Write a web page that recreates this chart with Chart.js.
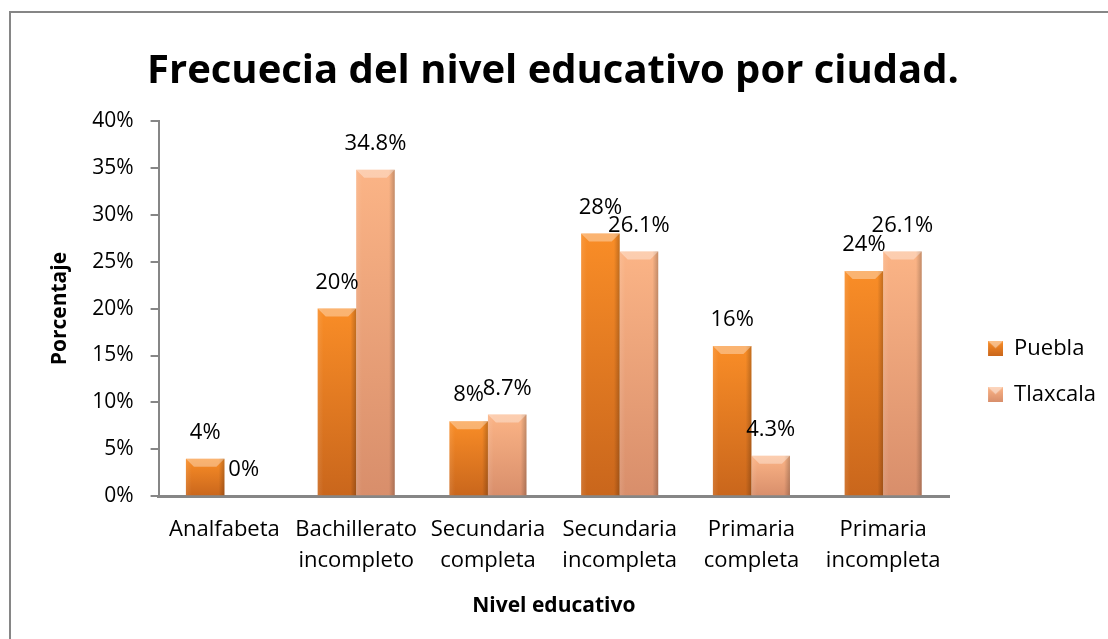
<!DOCTYPE html>
<html>
<head>
<meta charset="utf-8">
<script src="https://cdn.jsdelivr.net/npm/chart.js@4"></script>
<style>
  html, body { margin: 0; padding: 0; background: #fff; overflow: hidden; }
  #wrap { position: relative; width: 1108px; height: 639px; }
  #marco { position: absolute; left: 9px; top: 11px; width: 1200px; height: 800px;
           border: 2px solid #868686; box-sizing: border-box; pointer-events: none; }
</style>
</head>
<body>
<div id="wrap">
  <canvas id="myChart" width="1108" height="639"></canvas>
  <div id="marco"></div>
</div>
<script>
// datos
var niveles = [['Analfabeta'], ['Bachillerato', 'incompleto'], ['Secundaria', 'completa'],
               ['Secundaria', 'incompleta'], ['Primaria', 'completa'], ['Primaria', 'incompleta']];
var puebla = [4, 20, 8, 28, 16, 24];
var tlaxcala = [0, 34.8, 8.7, 26.1, 4.3, 26.1];
var ticks_y = [0, 5, 10, 15, 20, 25, 30, 35, 40];

var fuente = '"Open Sans", Lato, sans-serif';
var gris = '#868686';

// degradado vertical por barra, como en excel
function degradado (arriba, abajo) {
    return function (c) {
        var chart = c.chart;
        if (!chart.chartArea || c.type !== 'data') return arriba;
        var y = chart.scales.y;
        var top = y.getPixelForValue(c.raw);
        var bottom = y.getPixelForValue(0);
        if (bottom - top < 1) return arriba;
        var g = chart.ctx.createLinearGradient(0, top, 0, bottom);
        g.addColorStop(0, arriba);
        g.addColorStop(1, abajo);
        return g;
    };
}

// cuadrito de la leyenda con margen a la izquierda
function icono (arriba, abajo) {
    var c = document.createElement('canvas');
    c.width = 30; c.height = 15;
    var x = c.getContext('2d');
    var g = x.createLinearGradient(0, 0, 0, 15);
    g.addColorStop(0, arriba);
    g.addColorStop(1, abajo);
    x.fillStyle = g;
    x.fillRect(15, 0, 15, 15);
    x.fillStyle = 'rgba(255,255,255,0.45)';
    x.beginPath();
    x.moveTo(15, 0); x.lineTo(30, 0); x.lineTo(22.5, 7); x.closePath();
    x.fill();
    return c;
}

// sombreado lateral y bisel de arriba
var bisel = {
    id: 'bisel',
    afterDatasetsDraw: function (chart) {
        var ctx = chart.ctx;
        chart.data.datasets.forEach(function (ds, i) {
            chart.getDatasetMeta(i).data.forEach(function (bar) {
                var w = bar.width, l = bar.x - w / 2, r = bar.x + w / 2;
                var t = bar.y, b = bar.base;
                if (b - t < 1) return;
                ctx.save();
                var g = ctx.createLinearGradient(l, 0, r, 0);
                g.addColorStop(0, 'rgba(255,255,255,0.10)');
                g.addColorStop(0.15, 'rgba(255,255,255,0)');
                g.addColorStop(0.85, 'rgba(0,0,0,0)');
                g.addColorStop(1, 'rgba(0,0,0,0.22)');
                ctx.fillStyle = g;
                ctx.fillRect(l, t, w, b - t);
                var h = Math.min(8, (b - t) / 2);
                ctx.beginPath();
                ctx.moveTo(l, t);
                ctx.lineTo(r, t);
                ctx.lineTo(r - h, t + h);
                ctx.lineTo(l + h, t + h);
                ctx.closePath();
                ctx.fillStyle = 'rgba(255,255,255,0.35)';
                ctx.fill();
                ctx.restore();
            });
        });
    }
};

// etiquetas de valor encima de cada barra
var etiquetas = {
    id: 'etiquetas',
    afterDatasetsDraw: function (chart) {
        var ctx = chart.ctx;
        ctx.save();
        ctx.font = '22px ' + fuente;
        ctx.fillStyle = '#000';
        ctx.textAlign = 'center';
        ctx.textBaseline = 'middle';
        chart.data.datasets.forEach(function (ds, i) {
            chart.getDatasetMeta(i).data.forEach(function (bar, j) {
                ctx.fillText(ds.data[j] + '%', bar.x, bar.y - 26);
            });
        });
        ctx.restore();
    }
};

var iconos = [icono('#f98d27', '#c9661c'), icono('#fbb486', '#d88e6b')];

var ctx = document.getElementById('myChart').getContext('2d');
var myChart = new Chart(ctx, {
    type: 'bar',
    data: {
        labels: niveles,
        datasets: [{
            label: 'Puebla',
            data: puebla,
            backgroundColor: degradado('#f98d27', '#c9661c'),
            borderWidth: 0,
            categoryPercentage: 0.585,
            barPercentage: 1
        },
        {
            label: 'Tlaxcala',
            data: tlaxcala,
            backgroundColor: degradado('#fbb486', '#d88e6b'),
            borderWidth: 0,
            categoryPercentage: 0.585,
            barPercentage: 1
        }]
    },
    options: {
        responsive: false,
        animation: false,
        layout: { padding: { left: 0, right: 2, bottom: 20 } },
        plugins: {
            title: {
                display: true,
                text: 'Frecuecia del nivel educativo por ciudad.',
                color: '#000',
                font: { family: fuente, size: 40, weight: 'bold' },
                padding: { top: 48, bottom: 25 }
            },
            legend: {
                position: 'right',
                title: { display: true, text: ' ', padding: { top: 55, bottom: 55 } },
                labels: {
                    color: '#000',
                    font: { family: fuente, size: 22 },
                    usePointStyle: true,
                    pointStyleWidth: 30,
                    boxHeight: 15,
                    padding: 24,
                    generateLabels: function (chart) {
                        return chart.data.datasets.map(function (ds, i) {
                            return { text: ds.label, pointStyle: iconos[i], fillStyle: 'transparent',
                                     strokeStyle: 'transparent', fontColor: '#000', lineWidth: 0,
                                     hidden: false, datasetIndex: i };
                        });
                    }
                }
            },
            tooltip: { enabled: false }
        },
        scales: {
            x: {
                grid: { display: false, drawTicks: false },
                border: { color: gris, width: 3 },
                ticks: { color: '#000', font: { family: fuente, size: 22, lineHeight: 1.4 },
                         padding: 18, maxRotation: 0 },
                title: { display: true, text: 'Nivel educativo', color: '#000',
                         font: { family: fuente, size: 21, weight: 'bold' }, padding: { top: 0, bottom: 0 } }
            },
            y: {
                min: 0,
                max: 40,
                afterBuildTicks: function (axis) {
                    axis.ticks = ticks_y.map(function (v) { return { value: v }; });
                },
                grid: { drawOnChartArea: false, tickLength: 8, color: gris, lineWidth: 2 },
                border: { color: gris, width: 2 },
                ticks: { color: '#000', font: { family: fuente, size: 21 }, padding: 17,
                         callback: function (v) { return v + '%'; } },
                title: { display: true, text: 'Porcentaje', color: '#000',
                         font: { family: fuente, size: 21, weight: 'bold' }, padding: { top: 47, bottom: 3 } }
            }
        }
    },
    plugins: [bisel, etiquetas]
});
</script>
</body>
</html>
